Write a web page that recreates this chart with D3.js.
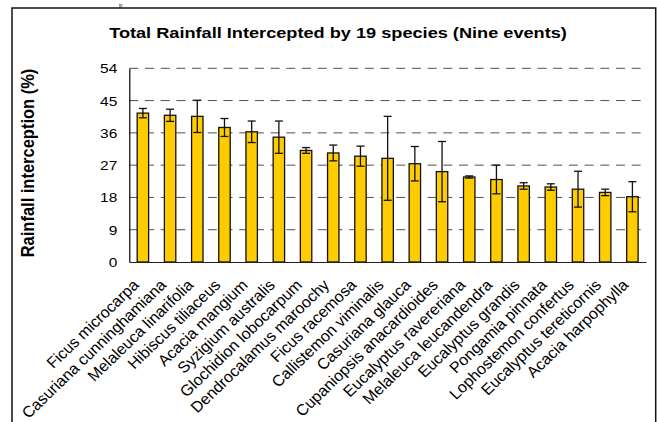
<!DOCTYPE html>
<html>
<head>
<meta charset="utf-8">
<script src="https://cdn.jsdelivr.net/npm/d3@7"></script>
<style>
  html, body { margin: 0; padding: 0; background: #fff; }
  svg { display: block; }
  text { font-family: "Liberation Sans", Arial, sans-serif; fill: #000; }
</style>
</head>
<body>
<script>
const species = [
  "Ficus microcarpa", "Casuriana cunninghamiana", "Melaleuca linarifolia",
  "Hibiscus tiliaceus", "Acacia mangium", "Syzigium australis",
  "Glochidion lobocarpum", "Dendrocalamus maroochy", "Ficus racemosa",
  "Callistemon viminalis", "Casuriana glauca", "Cupaniopsis anacardioides",
  "Eucalyptus ravereriana", "Melaleuca leucandendra", "Eucalyptus grandis",
  "Pongamia pinnata", "Lophostemon confertus", "Eucalyptus tereticornis",
  "Acacia harpophylla"
];
const interception = [41.5, 40.9, 40.6, 37.5, 36.3, 34.8, 31.1, 30.4, 29.5, 28.9,
                      27.4, 25.2, 23.7, 23.0, 21.2, 20.9, 20.3, 19.4, 18.2];
const errorSize = [1.3, 1.7, 4.5, 2.5, 3.0, 4.5, 0.8, 2.2, 2.8, 11.7,
                   4.8, 8.4, 0.3, 4.0, 0.9, 0.9, 5.0, 0.9, 4.2];
const yTicks = [0, 9, 18, 27, 36, 45, 54];
const titleText = "Total Rainfall Intercepted by 19 species (Nine events)";
const yLabelText = "Rainfall interception (%)";

const W = 657, H = 422;
const plotLeft = 129.3, plotRight = 646, plotTop = 68.3, plotBottom = 262;
const SX = 1.18; // horizontal stretch of the original picture's text

const svg = d3.select("body").append("svg").attr("width", W).attr("height", H);

// stray document fragment at the very top
svg.append("text").attr("x", 119).attr("y", 6.5)
  .style("font-family", "'Liberation Serif', 'Times New Roman', serif")
  .style("font-size", "7px").text("p");

// outer frame
svg.append("rect").attr("x", 12).attr("y", 8).attr("width", 643.7).attr("height", 440)
  .attr("fill", "none").attr("stroke", "#111").attr("stroke-width", 1.5);

const x = d3.scaleBand().domain(species).range([plotLeft, plotRight])
  .paddingInner(0.58).paddingOuter(0.29);
const y = d3.scaleLinear().domain([0, 54]).range([plotBottom, plotTop]);

// gridlines
svg.append("g").selectAll("line").data(yTicks.filter(d => d > 0)).join("line")
  .attr("x1", plotLeft).attr("x2", plotRight)
  .attr("y1", d => y(d)).attr("y2", d => y(d))
  .attr("stroke", "#505050").attr("stroke-width", 1)
  .attr("stroke-dasharray", "9,6.7");

// y axis
const yAxis = svg.append("g").attr("transform", `translate(${plotLeft},0)`)
  .call(d3.axisLeft(y).tickValues(yTicks).tickSize(0).tickPadding(0).tickFormat(d3.format("d")));
yAxis.select(".domain").attr("stroke", "#000").attr("stroke-width", 1.2);
yAxis.selectAll(".tick text")
  .attr("x", null).attr("dy", null)
  .attr("transform", `translate(-12,4.5) scale(1.24,1)`)
  .attr("text-anchor", "end")
  .style("font-size", "12.5px").style("font-family", "'Liberation Sans', Arial, sans-serif");

// bars
const bw = x.bandwidth();
svg.append("g").selectAll("rect").data(species).join("rect")
  .attr("x", d => x(d)).attr("width", bw)
  .attr("y", (d, i) => y(interception[i]))
  .attr("height", (d, i) => y(0) - y(interception[i]))
  .attr("fill", "#FFCC00").attr("stroke", "#111").attr("stroke-width", 1.3);

// error bars
const eb = svg.append("g").attr("stroke", "#111").attr("stroke-width", 1.3);
species.forEach((s, i) => {
  const cx = x(s) + bw / 2;
  const hi = y(interception[i] + errorSize[i]);
  const lo = y(interception[i] - errorSize[i]);
  eb.append("line").attr("x1", cx).attr("x2", cx).attr("y1", hi).attr("y2", lo);
  eb.append("line").attr("x1", cx - 4).attr("x2", cx + 4).attr("y1", hi).attr("y2", hi);
  eb.append("line").attr("x1", cx - 4).attr("x2", cx + 4).attr("y1", lo).attr("y2", lo);
});

// x axis
const xAxis = svg.append("g").attr("transform", `translate(0,${plotBottom})`)
  .call(d3.axisBottom(x).tickSize(0).tickPadding(0));
xAxis.select(".domain").attr("stroke", "#222").attr("stroke-width", 1.2);
xAxis.selectAll(".tick text")
  .attr("y", null).attr("dy", null)
  .attr("text-anchor", "end")
  .attr("transform", `translate(-3,24) scale(1.04,1) rotate(-45)`)
  .style("font-size", "15.5px").style("font-family", "'Liberation Sans', Arial, sans-serif");

// title
svg.append("text")
  .attr("transform", `translate(338,38.3) scale(${SX},1)`)
  .attr("text-anchor", "middle")
  .style("font-size", "15.4px").style("font-weight", "bold")
  .text(titleText);

// y label
svg.append("text")
  .attr("transform", `translate(33.5,163) scale(1.1,1) rotate(-90)`)
  .attr("text-anchor", "middle")
  .style("font-size", "16.5px").style("font-weight", "bold")
  .text(yLabelText);
</script>
</body>
</html>
